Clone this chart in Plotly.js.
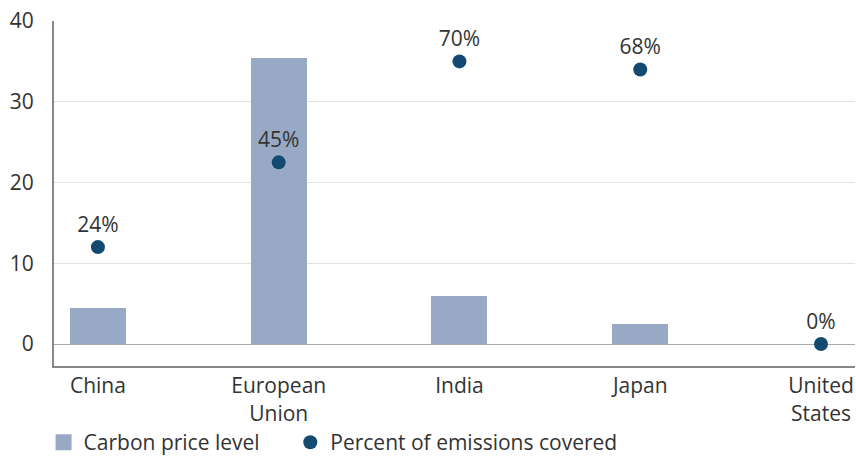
<!DOCTYPE html>
<html><head><meta charset="utf-8">
<script src="https://cdn.plot.ly/plotly-3.0.1.min.js"></script>
<style>body{margin:0;padding:0;background:#fff}#chart{width:856px;height:459px}</style>
</head><body><div id="chart"></div>
<script>
const categories = ["China", "European<br>Union", "India", "Japan", "United<br>States"];
const carbonPrice = [4.45, 35.4, 5.95, 2.45, 0];
const coveragePct = [24, 45, 70, 68, 0];
const coverageLabels = ["24%", "45%", "70%", "68%", "0%"];
const coverageScaled = coveragePct.map(v => v / 2);
const xIdx = categories.map((c, i) => i);
const yTicks = [0, 10, 20, 30, 40];

const barColor = "#98a9c6";
const dotColor = "#134a72";
const font = "Open Sans, Lato, sans-serif";
const fs = 21;
const data = [
  {type: "bar", x: xIdx, y: carbonPrice, name: "Carbon price level", showlegend: false,
   marker: {color: barColor}, width: 0.31, hoverinfo: "skip"},
  {type: "scatter", mode: "markers", x: [null], y: [null], name: "Carbon price level",
   marker: {color: barColor, symbol: "square", size: 21}, showlegend: true, legend: "legend"},
  {type: "scatter", mode: "markers+text", x: xIdx, y: coverageScaled,
   name: "Percent of emissions covered", text: coverageLabels,
   textposition: "top center", textfont: {size: fs, color: "#333", family: font},
   marker: {color: dotColor, size: 14}, cliponaxis: false, legend: "legend2"}
];
const legendBase = {orientation: "h", xanchor: "left", y: -0.222, yanchor: "middle",
  font: {size: fs, color: "#333"}, itemwidth: 30, itemsizing: "trace", bgcolor: "rgba(0,0,0,0)"};
const layout = {
  width: 856, height: 459,
  margin: {l: 54, r: 1, t: 21, b: 93, autoexpand: false},
  paper_bgcolor: "#fff", plot_bgcolor: "#fff",
  font: {family: font, size: fs, color: "#333"},
  showlegend: true,
  legend: Object.assign({}, legendBase, {x: -0.013}),
  legend2: Object.assign({}, legendBase, {x: 0.295}),
  xaxis: {range: [-0.243, 4.188], tickvals: xIdx, ticktext: categories,
          showgrid: false, zeroline: false, showline: true, linecolor: "#888", linewidth: 2,
          ticks: "", tickfont: {size: fs, color: "#333"}, fixedrange: true},
  yaxis: {range: [-2.72, 40], tickvals: yTicks,
          showgrid: true, gridcolor: "#e2e2e2", gridwidth: 1,
          zeroline: true, zerolinecolor: "#aaa", zerolinewidth: 1,
          showline: true, linecolor: "#888", linewidth: 2, ticks: "",
          tickfont: {size: fs, color: "#333"}, ticklabelstandoff: 14, fixedrange: true},
  bargap: 0
};
Plotly.newPlot("chart", data, layout, {displayModeBar: false, staticPlot: true});
</script></body></html>
